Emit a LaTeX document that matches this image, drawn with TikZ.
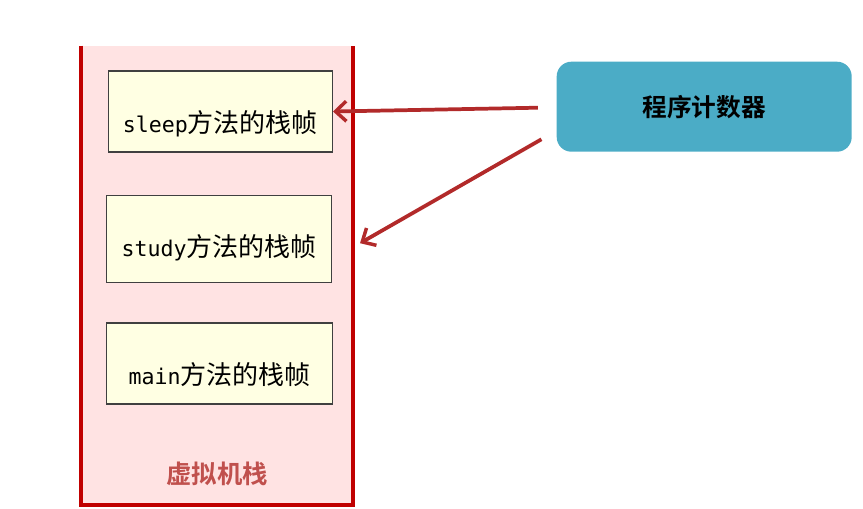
\documentclass[tikz,border=0pt]{standalone}
\usepackage{fontspec}
\setmonofont{DejaVu Sans Mono}
\newfontfamily\cjk{Noto Sans CJK SC}
\newfontfamily\cjkb{Noto Sans CJK SC}[BoldFont={* Bold}]
\usetikzlibrary{arrows.meta}
\definecolor{stackred}{HTML}{C00000}
\definecolor{stackfill}{HTML}{FFE3E3}
\definecolor{framefill}{HTML}{FFFFE3}
\definecolor{frameline}{HTML}{404040}
\definecolor{pcblue}{HTML}{4BACC6}
\definecolor{arrowred}{HTML}{B22A2A}
\definecolor{labelred}{HTML}{C0504D}
\begin{document}
\begin{tikzpicture}[x=0.75pt,y=-0.75pt,
  stackbox/.style={draw=none,fill=stackfill,inner sep=0pt,minimum width=271*0.75pt,minimum height=459*0.75pt},
  framebox/.style={draw=frameline,line width=1.1pt,fill=framefill,inner sep=0pt},
  pcbox/.style={fill=pcblue,rounded corners=11pt,inner sep=0pt,minimum width=295*0.75pt,minimum height=90*0.75pt,
     font=\cjkb\bfseries\fontsize{18.5pt}{22pt}\selectfont},
  stacklabel/.style={text=labelred,font=\cjkb\bfseries\fontsize{19pt}{22pt}\selectfont},
  arr/.style={draw=arrowred,line width=2.8pt,-{Straight Barb[length=8pt,width=15pt,line width=2.6pt]}}
]
\useasboundingbox (0,0) rectangle (863,508);
% stack container
\node[stackbox] (stack) at (216.8,275.5) {};
\draw[stackred,line width=3pt] (stack.north west) -- (stack.south west) -- (stack.south east) -- (stack.north east);
\node[stacklabel] (stacklbl) at (217,474) {虚拟机栈};
% frames
\newcommand{\frametext}[2]{\raisebox{-#2}[0pt][0pt]{{\ttfamily\fontsize{16.2pt}{18pt}\selectfont #1}{\cjk\fontsize{19.5pt}{22pt}\selectfont 方法的栈帧}}}
\node[framebox,minimum width=224*0.75pt,minimum height=81*0.75pt] (sleep) at (220.3,111.5) {\frametext{sleep}{15.5pt}};
\node[framebox,minimum width=225*0.75pt,minimum height=87*0.75pt] (study) at (219.2,239.2) {\frametext{study}{13pt}};
\node[framebox,minimum width=226*0.75pt,minimum height=81*0.75pt] (main) at (219.7,363.7) {\frametext{main}{15.5pt}};
% program counter
\node[pcbox] (pc) at (704.2,106.7) {程序计数器};
% arrows
\coordinate (s1) at ([shift={(-18.5,1)}]pc.west);
\coordinate (s2) at ([shift={(-15,32.6)}]pc.west);
\coordinate (t2) at ([shift={(27.6,4)}]study.east);
\draw[arr] (s1) -- (sleep.east);
\draw[arr] (s2) -- (t2);
\end{tikzpicture}
\end{document}
